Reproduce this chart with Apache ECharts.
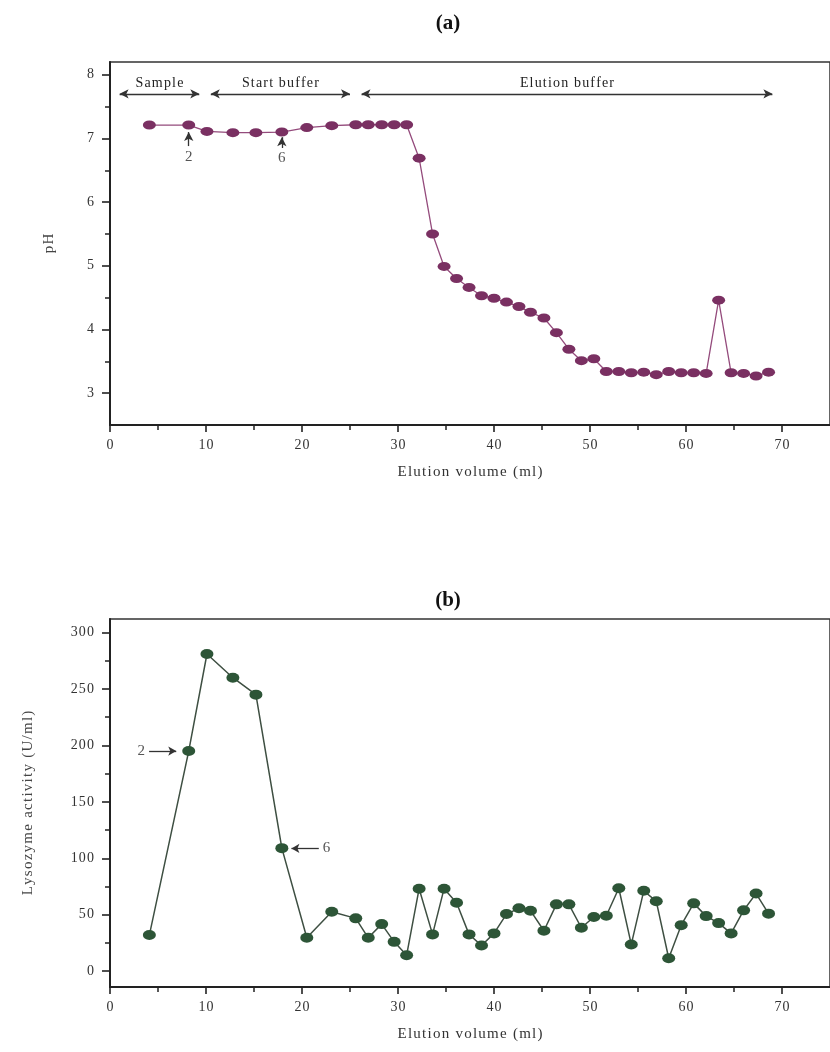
<!DOCTYPE html>
<html>
<head>
<meta charset="utf-8">
<script src="https://cdn.jsdelivr.net/npm/echarts@6/dist/echarts.min.js"></script>
<style>
html,body{margin:0;padding:0;background:#fff;}
#c{width:830px;height:1052px;}
</style>
</head>
<body>
<div id="c"></div>
<script>
// ---- data ----
const volume = [4.1, 8.2, 10.1, 12.8, 15.2, 17.9, 20.5, 23.1, 25.6, 26.9, 28.3, 29.6, 30.9, 32.2, 33.6, 34.8, 36.1, 37.4, 38.7, 40.0, 41.3, 42.6, 43.8, 45.2, 46.5, 47.8, 49.1, 50.4, 51.7, 53.0, 54.3, 55.6, 56.9, 58.2, 59.5, 60.8, 62.1, 63.4, 64.7, 66.0, 67.3, 68.6];
const pH = [7.21, 7.21, 7.11, 7.09, 7.09, 7.10, 7.17, 7.20, 7.215, 7.215, 7.215, 7.215, 7.215, 6.69, 5.50, 4.99, 4.80, 4.66, 4.53, 4.49, 4.43, 4.36, 4.27, 4.18, 3.95, 3.69, 3.51, 3.54, 3.34, 3.34, 3.32, 3.33, 3.29, 3.34, 3.32, 3.32, 3.31, 4.46, 3.32, 3.31, 3.27, 3.33];
const activity = [32, 195, 281, 260, 245, 109, 29.6, 52.7, 46.8, 29.6, 41.7, 26, 14.2, 73.1, 32.6, 73.1, 60.7, 32.6, 22.8, 33.5, 50.6, 55.7, 53.6, 35.8, 59.2, 59.2, 38.5, 48, 49.1, 73.5, 23.7, 71.2, 62, 11.5, 40.8, 60.1, 48.8, 42.6, 33.5, 53.9, 68.8, 51];
const xTicks = [0, 10, 20, 30, 40, 50, 60, 70];
const xMinorTicks = [5, 15, 25, 35, 45, 55, 65];
const pHTicks = [3, 4, 5, 6, 7, 8];
const pHMinorTicks = [3.5, 4.5, 5.5, 6.5, 7.5];
const actTicks = [0, 50, 100, 150, 200, 250, 300];
const actMinorTicks = [25, 75, 125, 175, 225, 275];
// buffer regions: [label, start ml, end ml]
const regions = [["Sample", 1.0, 9.3], ["Start buffer", 10.5, 25.0], ["Elution buffer", 26.2, 69.0]];
const regionY = 7.70;

// ---- helpers ----
const FONT = '"Liberation Serif", "DejaVu Serif", serif';
const sp = s => String(s).split('').join('\u200A');
const C_AX = '#222';

function xAxes(gi) {
  return [{
    type: 'value', gridIndex: gi, min: 0, max: 75, position: 'bottom',
    axisLine: { show: true, onZero: false, lineStyle: { color: C_AX, width: 2 } },
    axisTick: { show: true, inside: false, length: 7, customValues: xTicks, lineStyle: { color: C_AX, width: 1.6 } },
    axisLabel: { customValues: xTicks, margin: 13, color: '#333', fontFamily: FONT, fontSize: 14, formatter: v => sp(v) },
    splitLine: { show: false },
    name: sp('Elution volume (ml)'), nameLocation: 'middle', nameGap: 40,
    nameTextStyle: { color: '#333', fontFamily: FONT, fontSize: 15 }
  }, {
    type: 'value', gridIndex: gi, min: 0, max: 75, position: 'bottom',
    axisLine: { show: false, onZero: false },
    axisTick: { show: true, inside: false, length: 5, customValues: xMinorTicks, lineStyle: { color: C_AX, width: 1.5 } },
    axisLabel: { show: false, customValues: xMinorTicks },
    splitLine: { show: false }
  }];
}

function yAxes(gi, min, max, ticks, minor, name, gap) {
  return [{
    type: 'value', gridIndex: gi, min: min, max: max, position: 'left',
    axisLine: { show: true, onZero: false, lineStyle: { color: C_AX, width: 2 } },
    axisTick: { show: true, length: 8, customValues: ticks, lineStyle: { color: C_AX, width: 1.6 } },
    axisLabel: { customValues: ticks, margin: 16, color: '#333', fontFamily: FONT, fontSize: 14, formatter: v => sp(v) },
    splitLine: { show: false },
    name: sp(name), nameLocation: 'middle', nameGap: gap, nameRotate: 90,
    nameTextStyle: { color: '#444', fontFamily: FONT, fontSize: 15 }
  }, {
    type: 'value', gridIndex: gi, min: min, max: max, position: 'left',
    axisLine: { show: false, onZero: false },
    axisTick: { show: true, inside: false, length: 5, customValues: minor, lineStyle: { color: C_AX, width: 1.5 } },
    axisLabel: { show: false, customValues: minor },
    splitLine: { show: false }
  }];
}

const arrowStyle = { color: '#333', width: 1.3, type: 'solid' };
const regionLines = regions.map(r => [
  { coord: [r[1], regionY], label: { formatter: sp(r[0]) } },
  { coord: [r[2], regionY] }
]);

const option = {
  animation: false,
  backgroundColor: '#fff',
  title: [
    { text: '(a)', left: 443, top: 8, textAlign: 'center', textStyle: { fontFamily: FONT, fontWeight: 'bold', fontSize: 21, color: '#111' } },
    { text: '(b)', left: 443, top: 585, textAlign: 'center', textStyle: { fontFamily: FONT, fontWeight: 'bold', fontSize: 21, color: '#111' } }
  ],
  grid: [
    { left: 110, top: 62, width: 725, height: 363, show: true, borderColor: '#333', borderWidth: 1.5 },
    { left: 110, top: 619, width: 725, height: 368, show: true, borderColor: '#333', borderWidth: 1.5 }
  ],
  xAxis: [...xAxes(0), ...xAxes(1)],
  yAxis: [
    ...yAxes(0, 2.5, 8.2, pHTicks, pHMinorTicks, 'pH', 53),
    ...yAxes(1, -14, 312, actTicks, actMinorTicks, 'Lysozyme activity (U/ml)', 74)
  ],
  series: [
    {
      type: 'line', xAxisIndex: 0, yAxisIndex: 0,
      data: volume.map((v, i) => [v, pH[i]]),
      symbol: 'circle', symbolSize: [13, 9],
      itemStyle: { color: '#7a3062' },
      lineStyle: { color: '#944b7c', width: 1.3 },
      z: 3,
      markLine: {
        silent: true, symbol: ['arrow', 'arrow'], symbolSize: [7, 9],
        lineStyle: arrowStyle,
        label: { show: true, position: 'insideMiddleTop', distance: 4, color: '#222', fontFamily: FONT, fontSize: 14 },
        data: [
          ...regionLines,
          [{ coord: [8.2, 6.88], symbol: 'none', label: { position: 'start', formatter: '2', distance: 3, color: '#555', fontSize: 15 } }, { coord: [8.2, 7.10], symbol: 'arrow' }],
          [{ coord: [17.9, 6.85], symbol: 'none', label: { position: 'start', formatter: '6', distance: 3, color: '#555', fontSize: 15 } }, { coord: [17.9, 7.02], symbol: 'arrow' }]
        ]
      }
    },
    {
      type: 'line', xAxisIndex: 2, yAxisIndex: 2,
      data: volume.map((v, i) => [v, activity[i]]),
      symbol: 'circle', symbolSize: [13, 10],
      itemStyle: { color: '#2d5537' },
      lineStyle: { color: '#3e4f42', width: 1.5 },
      z: 3,
      markLine: {
        silent: true, symbol: ['none', 'arrow'], symbolSize: [7, 8],
        lineStyle: arrowStyle,
        label: { show: true, position: 'start', distance: 4, color: '#555', fontFamily: FONT, fontSize: 15 },
        data: [
          [{ coord: [4.07, 195], label: { formatter: '2' } }, { coord: [6.9, 195] }],
          [{ coord: [21.75, 108.8], label: { formatter: '6' } }, { coord: [18.9, 108.8] }]
        ]
      }
    }
  ]
};

const chart = echarts.init(document.getElementById('c'), null, { renderer: 'canvas' });
chart.setOption(option);
</script>
</body>
</html>
